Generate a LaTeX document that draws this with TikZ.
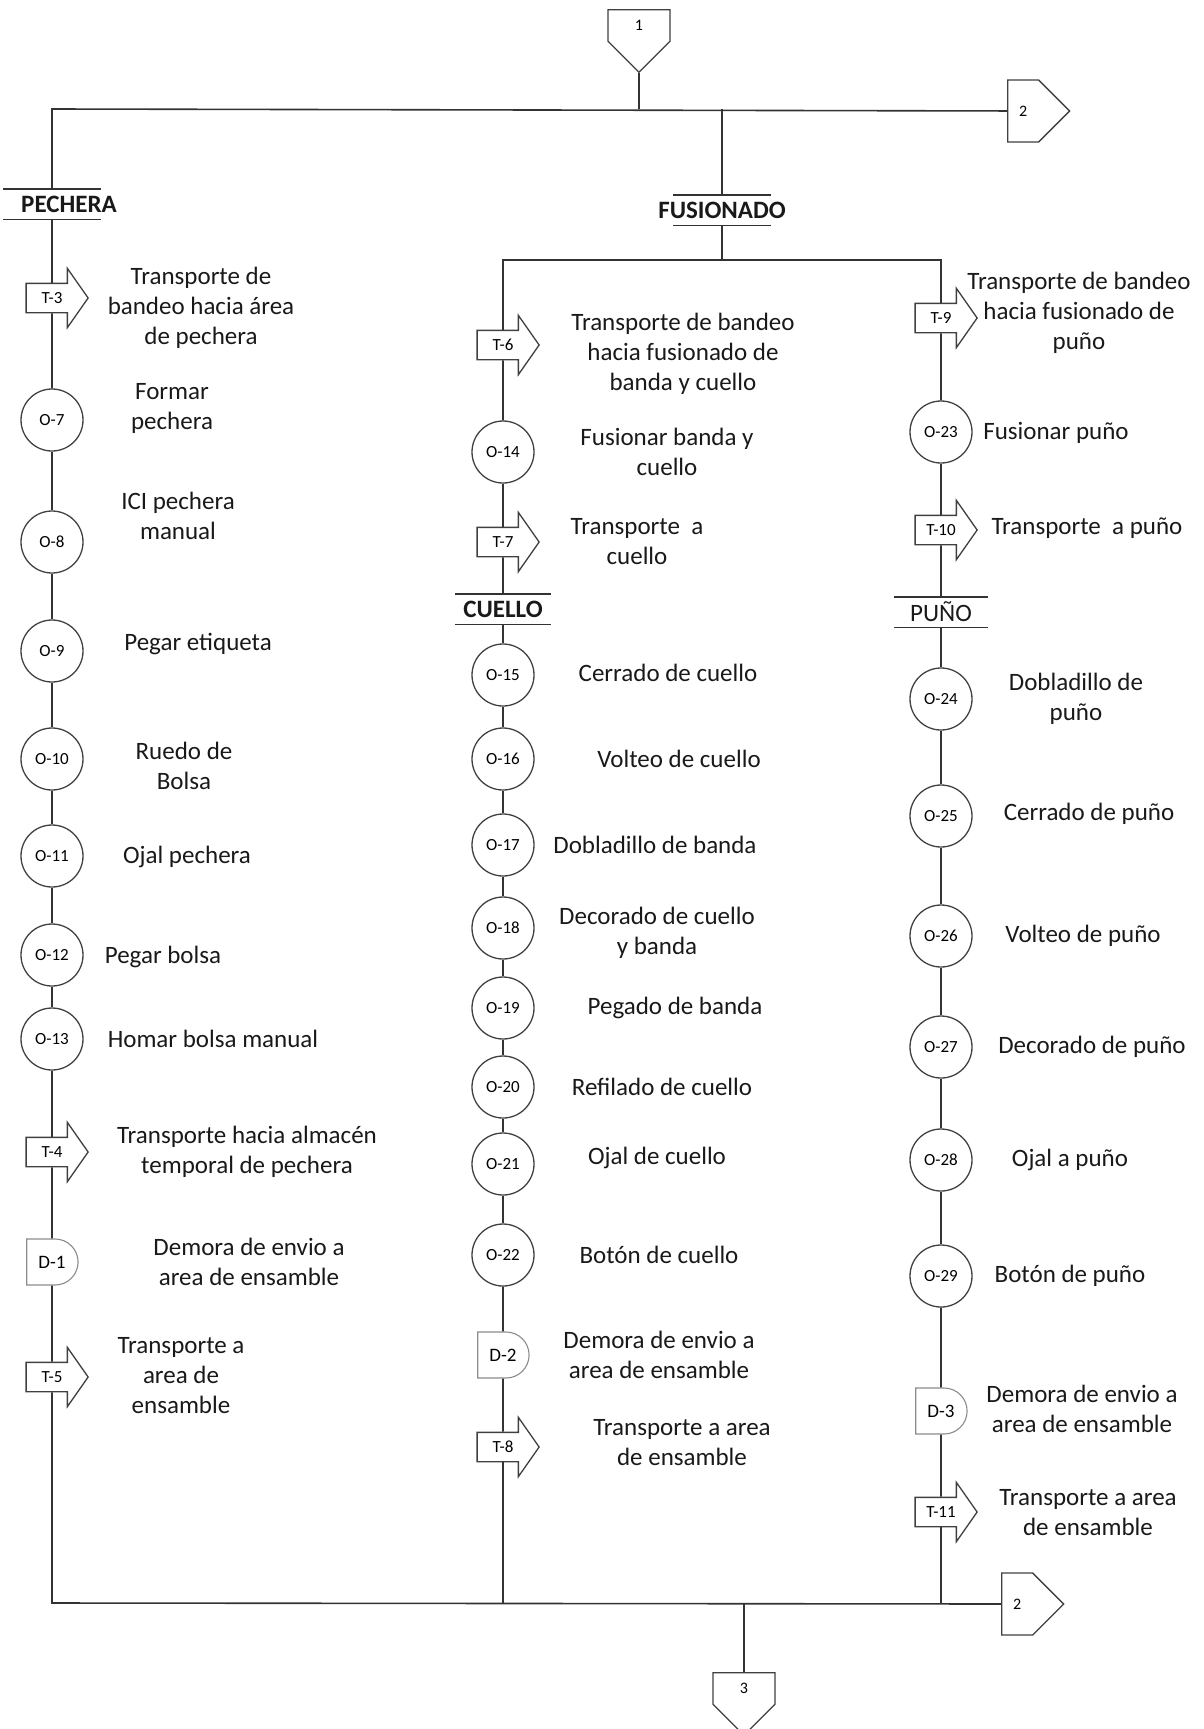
\documentclass[tikz,border=0pt]{standalone}
\usepackage{fontspec}
\setmainfont{Carlito}
\usetikzlibrary{shapes.arrows,shapes.symbols,shapes.misc}

\tikzset{
  flow/.style={draw=black!80, line width=1.6pt},
  op/.style={circle, draw=black!75, line width=1.3pt, fill=white, minimum size=62pt,
    inner sep=0pt, font=\fontsize{17}{20}\selectfont},
  trans/.style={single arrow, draw=black!75, line width=1.3pt, fill=white,
    single arrow head extend=15pt, single arrow tip angle=110, minimum height=62pt,
    text height=11pt, text depth=0pt, inner ysep=8.5pt, inner xsep=5pt,
    font=\fontsize{17}{20}\selectfont},
  delay/.style={rounded rectangle, rounded rectangle left arc=none, draw=black!45,
    line width=1.1pt, fill=white, minimum width=58pt, minimum height=46pt,
    font=\fontsize{19}{22}\selectfont},
  offpage/.style={signal, draw=black!75, line width=1.3pt, fill=white,
    signal pointer angle=90, minimum width=62pt, minimum height=62pt,
    font=\fontsize{16}{19}\selectfont},
  offdown/.style={offpage, signal to=south, minimum height=39pt},
  sechead/.style={minimum width=97pt, minimum height=30pt, inner sep=0pt},
  headtxt/.style={font=\fontsize{25}{30}\selectfont\bfseries, text=black!90},
  desc/.style={align=center, font=\fontsize{25}{30}\selectfont, text=black!90},
}

\begin{document}
\begin{tikzpicture}[x=1pt,y=-1pt]
  \useasboundingbox (0,0) rectangle (1204,1729);

  % off-page connectors
  \node[offdown, anchor=north] (c1) at (639,9) {1};
  \node[offpage, signal to=east, anchor=west] (c2) at (1007,111) {2};
  \node[offpage, signal to=east, anchor=west] (c2b) at (1001,1604) {2};
  \node[offdown, anchor=north] (c3) at (744,1672) {3};

  % section headers
  \node[sechead, label={[headtxt, xshift=17pt]center:PECHERA}] (pech) at (52,204) {};
  \node[sechead, label={[headtxt]center:FUSIONADO}] (fus) at (722,210) {};
  \node[sechead, minimum width=95pt, label={[headtxt]center:CUELLO}] (cue) at (503,609) {};
  \node[sechead, minimum width=94pt, label={[headtxt, font=\fontsize{25}{30}\selectfont]center:PUÑO}] (pun) at (941,612) {};
  \foreach \h in {pech,fus,cue,pun}
    \draw[black!80, line width=1.4pt] (\h.north west) -- (\h.north east)
      (\h.south west) -- (\h.south east);

  % junctions
  \coordinate (jl) at (52,109);
  \coordinate (j1) at (639,109);
  \coordinate (jf) at (722,109);
  \coordinate (jm) at (503,260);
  \coordinate (jc) at (722,260);
  \coordinate (jr) at (941,260);
  \coordinate (bl) at (52,1603);
  \coordinate (bm) at (503,1603);
  \coordinate (b3) at (744,1603);
  \coordinate (br) at (941,1603);

  % operations
  \foreach \n/\xx/\yy/\tx/\ty/\txt in {
    7/52/420/172/408/{Formar\\pechera},
    8/52/542/178/516/{ICI pechera\\manual},
    9/52/651/198/644/{Pegar etiqueta},
    10/52/759/184/766/{Ruedo de\\Bolsa},
    11/52/856/187/857/{Ojal pechera},
    12/52/955/163/957/{Pegar bolsa},
    13/52/1039/213/1039/{Homar bolsa manual},
    14/503/452/667/452/{Fusionar banda y\\cuello},
    15/503/675/668/673/{Cerrado de cuello},
    16/503/759/679/759/{Volteo de cuello},
    17/503/845/655/845/{Dobladillo de banda},
    18/503/928/657/933/{Decorado de cuello\\y banda},
    19/503/1008/675/1008/{Pegado de banda},
    20/503/1087/662/1087/{Refilado de cuello},
    21/503/1164/657/1158/{Ojal de cuello},
    22/503/1255/659/1255/{Botón de cuello},
    23/941/432/1056/433/{Fusionar puño},
    24/941/699/1076/699/{Dobladillo de\\puño},
    25/941/816/1089/814/{Cerrado de puño},
    26/941/936/1083/936/{Volteo de puño},
    27/941/1047/1092/1047/{Decorado de puño},
    28/941/1160/1070/1160/{Ojal a puño},
    29/941/1276/1070/1276/{Botón de puño}} {
    \node[op] (o\n) at (\xx,\yy) {O-\n};
    \node[desc] (lo\n) at (\tx,\ty) {\txt};
  }

  % transports
  \foreach \n/\xx/\yy/\tx/\ty/\txt in {
    3/52/298/201/308/{Transporte de\\bandeo hacia área\\de pechera},
    4/52/1152/247/1152/{Transporte hacia almacén\\temporal de pechera},
    5/52/1377/181/1376/{Transporte a\\area de\\ensamble},
    6/503/345/683/354/{Transporte de bandeo\\hacia fusionado de\\banda y cuello},
    7/503/542/637/542/{Transporte\ \ a\\cuello},
    8/503/1447/682/1443/{Transporte a area\\de ensamble},
    9/941/318/1079/313/{Transporte de bandeo\\hacia fusionado de\\puño},
    10/941/530/1087/528/{Transporte\ \ a puño},
    11/941/1512/1088/1513/{Transporte a area\\de ensamble}} {
    \node[trans] (t\n) at (\xx,\yy) {T-\n};
    \node[desc] (lt\n) at (\tx,\ty) {\txt};
  }

  % delays
  \foreach \n/\xx/\yy/\tx/\ty in {
    1/52/1262/249/1262,
    2/503/1355/659/1355,
    3/941/1411/1082/1409} {
    \node[delay] (d\n) at (\xx,\yy) {D-\n};
    \node[desc] (ld\n) at (\tx,\ty) {Demora de envio a\\area de ensamble};
  }

  % main lines
  \draw[flow] (c1) -- (j1);
  \draw[flow] (pech) -- (jl) -- (c2);
  \draw[flow] (fus) -- (jf);
  \draw[flow] (fus) -- (jc);
  \draw[flow] (t6) -- (jm) -- (jr) -- (t9);
  \draw[flow] (t5) -- (bl) -- (c2b);
  \draw[flow] (t8) -- (bm);
  \draw[flow] (t11) -- (br);
  \draw[flow] (b3) -- (c3);

  % column lines
  \foreach \a/\b in {pech/t3, t3/o7, o7/o8, o8/o9, o9/o10, o10/o11, o11/o12,
    o12/o13, o13/t4, t4/d1, d1/t5,
    t6/o14, o14/t7, t7/cue, cue/o15, o15/o16, o16/o17, o17/o18, o18/o19,
    o19/o20, o20/o21, o21/o22, o22/d2, d2/t8,
    t9/o23, o23/t10, t10/pun, pun/o24, o24/o25, o25/o26, o26/o27, o27/o28,
    o28/o29, o29/d3, d3/t11}
    \draw[flow] (\a) -- (\b);
\end{tikzpicture}
\end{document}
